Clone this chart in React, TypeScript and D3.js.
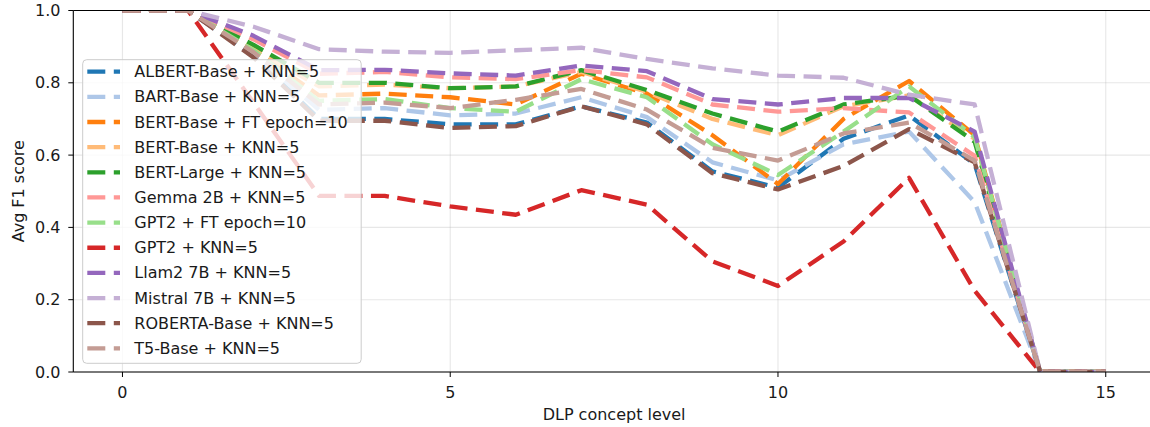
import React from "react";
import * as d3 from "d3";

const levels = [0, 1, 2, 3, 4, 5, 6, 7, 8, 9, 10, 11, 12, 13, 14, 15];

const seriesNames = [
  "ALBERT-Base + KNN=5",
  "BART-Base + KNN=5",
  "BERT-Base + FT epoch=10",
  "BERT-Base + KNN=5",
  "BERT-Large + KNN=5",
  "Gemma 2B + KNN=5",
  "GPT2 + FT epoch=10",
  "GPT2 + KNN=5",
  "Llam2 7B + KNN=5",
  "Mistral 7B + KNN=5",
  "ROBERTA-Base + KNN=5",
  "T5-Base + KNN=5",
];

const colors = [
  "#1f77b4", "#aec7e8", "#ff7f0e", "#ffbb78", "#2ca02c", "#ff9896",
  "#98df8a", "#d62728", "#9467bd", "#c5b0d5", "#8c564b", "#c49c94",
];

const albertBase = [1, 1, 0.875, 0.70, 0.70, 0.685, 0.685, 0.735, 0.69, 0.555, 0.51, 0.645, 0.71, 0.575, 0, 0];
const bartBase = [1, 1, 0.88, 0.725, 0.73, 0.71, 0.715, 0.76, 0.705, 0.58, 0.53, 0.63, 0.665, 0.47, 0, 0];
const bertBaseFt = [1, 1, 0.89, 0.765, 0.77, 0.76, 0.74, 0.825, 0.77, 0.655, 0.52, 0.70, 0.805, 0.655, 0, 0];
const bertBaseKnn = [1, 1, 0.895, 0.79, 0.795, 0.785, 0.79, 0.83, 0.775, 0.70, 0.655, 0.735, 0.765, 0.645, 0, 0];
const bertLarge = [1, 1, 0.905, 0.80, 0.80, 0.785, 0.79, 0.835, 0.78, 0.715, 0.665, 0.74, 0.765, 0.637, 0, 0];
const gemma2b = [1, 1, 0.92, 0.825, 0.83, 0.815, 0.81, 0.835, 0.815, 0.74, 0.72, 0.73, 0.718, 0.598, 0, 0];
const gpt2Ft = [1, 1, 0.89, 0.75, 0.755, 0.73, 0.72, 0.81, 0.76, 0.63, 0.545, 0.665, 0.79, 0.65, 0, 0];
const gpt2Knn = [1, 1, 0.745, 0.487, 0.487, 0.458, 0.435, 0.503, 0.463, 0.306, 0.238, 0.361, 0.537, 0.225, 0, 0];
const llam2 = [1, 1, 0.93, 0.835, 0.836, 0.826, 0.82, 0.848, 0.832, 0.755, 0.74, 0.758, 0.758, 0.665, 0, 0];
const mistral = [1, 1, 0.955, 0.893, 0.886, 0.883, 0.89, 0.897, 0.866, 0.84, 0.82, 0.814, 0.767, 0.74, 0, 0];
const robertaBase = [1, 1, 0.87, 0.695, 0.695, 0.675, 0.68, 0.735, 0.685, 0.55, 0.505, 0.57, 0.672, 0.58, 0, 0];
const t5Base = [1, 1, 0.885, 0.74, 0.745, 0.73, 0.753, 0.783, 0.726, 0.62, 0.585, 0.66, 0.69, 0.585, 0, 0];

const seriesValues = [
  albertBase, bartBase, bertBaseFt, bertBaseKnn, bertLarge, gemma2b,
  gpt2Ft, gpt2Knn, llam2, mistral, robertaBase, t5Base,
];

const xTicks = [0, 5, 10, 15];
const yTicks = [0, 0.2, 0.4, 0.6, 0.8, 1.0];

const W = 1150;
const H = 427;
const FONT = "'DejaVu Sans', sans-serif";

export default function App() {
  const left = 73.3;
  const top = 10.5;
  const bottom = 372;
  const x = d3.scaleLinear().domain([-0.75, 15.75]).range([left, 1154.9]);
  const y = d3.scaleLinear().domain([0, 1]).range([bottom, top]);
  const right = x(15.75);

  const line = d3
    .line<number>()
    .x((_, i) => x(levels[i]))
    .y((d) => y(d));

  const dash = "18 8.5";
  const sw = 4.3;

  const legX = 82.7;
  const legY = 59.7;
  const legW = 278.5;
  const legH = 303.6;
  const rowY0 = 71.7;
  const rowStep = 25.15;

  return (
    <div style={{ position: "absolute", left: 0, top: 0, width: W, height: H, overflow: "hidden" }}>
      <svg width={W} height={H} style={{ display: "block", background: "#fff" }}>
        <defs>
          <clipPath id="plotClip">
            <rect x={left} y={top} width={right - left} height={bottom - top} />
          </clipPath>
        </defs>
        {/* grid */}
        <g stroke="#b0b0b0" strokeOpacity={0.3} strokeWidth={1.1}>
          {xTicks.map((t) => (
            <line key={"gx" + t} x1={x(t)} x2={x(t)} y1={top} y2={bottom} />
          ))}
          {yTicks.map((t) => (
            <line key={"gy" + t} x1={left} x2={right} y1={y(t)} y2={y(t)} />
          ))}
        </g>
        {/* lines */}
        <g clipPath="url(#plotClip)">
          {seriesValues.map((vals, i) => (
            <path
              key={seriesNames[i]}
              d={line(vals) || ""}
              fill="none"
              stroke={colors[i]}
              strokeWidth={sw}
              strokeDasharray={dash}
              strokeLinejoin="round"
              strokeLinecap="butt"
            />
          ))}
        </g>
        {/* spines */}
        <g stroke="#000" strokeWidth={1.1} fill="none">
          <line x1={left} x2={left} y1={top} y2={bottom} />
          <line x1={left} x2={right} y1={bottom} y2={bottom} />
          <line x1={left} x2={right} y1={top} y2={top} />
          <line x1={right} x2={right} y1={top} y2={bottom} />
        </g>
        {/* ticks */}
        <g stroke="#000" strokeWidth={1}>
          {xTicks.map((t) => (
            <line key={"tx" + t} x1={x(t)} x2={x(t)} y1={bottom} y2={bottom + 5} />
          ))}
          {yTicks.map((t) => (
            <line key={"ty" + t} x1={left - 5} x2={left} y1={y(t)} y2={y(t)} />
          ))}
        </g>
        <g fontFamily={FONT} fontSize={16} fill="#1a1a1a">
          {xTicks.map((t) => (
            <text key={"lx" + t} x={x(t)} y={392.7} textAnchor="middle" dominantBaseline="central">
              {String(t)}
            </text>
          ))}
          {yTicks.map((t) => (
            <text key={"ly" + t} x={60.5} y={y(t)} textAnchor="end" dominantBaseline="central">
              {t.toFixed(1)}
            </text>
          ))}
          <text x={(left + right) / 2} y={414.5} textAnchor="middle" dominantBaseline="central">
            DLP concept level
          </text>
          <text
            transform={`translate(18,${(top + bottom) / 2}) rotate(-90)`}
            textAnchor="middle"
            dominantBaseline="central"
          >
            Avg F1 score
          </text>
        </g>
        {/* legend */}
        <g>
          <rect
            x={legX}
            y={legY}
            width={legW}
            height={legH}
            rx={4}
            ry={4}
            fill="#fff"
            fillOpacity={0.8}
            stroke="#cccccc"
            strokeWidth={1}
          />
          {seriesNames.map((name, i) => {
            const cy = rowY0 + i * rowStep;
            return (
              <g key={"leg" + name}>
                <line
                  x1={87.3}
                  x2={120}
                  y1={cy}
                  y2={cy}
                  stroke={colors[i]}
                  strokeWidth={sw}
                  strokeDasharray={dash}
                />
                <text
                  x={134.3}
                  y={cy}
                  fontFamily={FONT}
                  fontSize={16}
                  fill="#1a1a1a"
                  dominantBaseline="central"
                >
                  {name}
                </text>
              </g>
            );
          })}
        </g>
      </svg>
    </div>
  );
}
